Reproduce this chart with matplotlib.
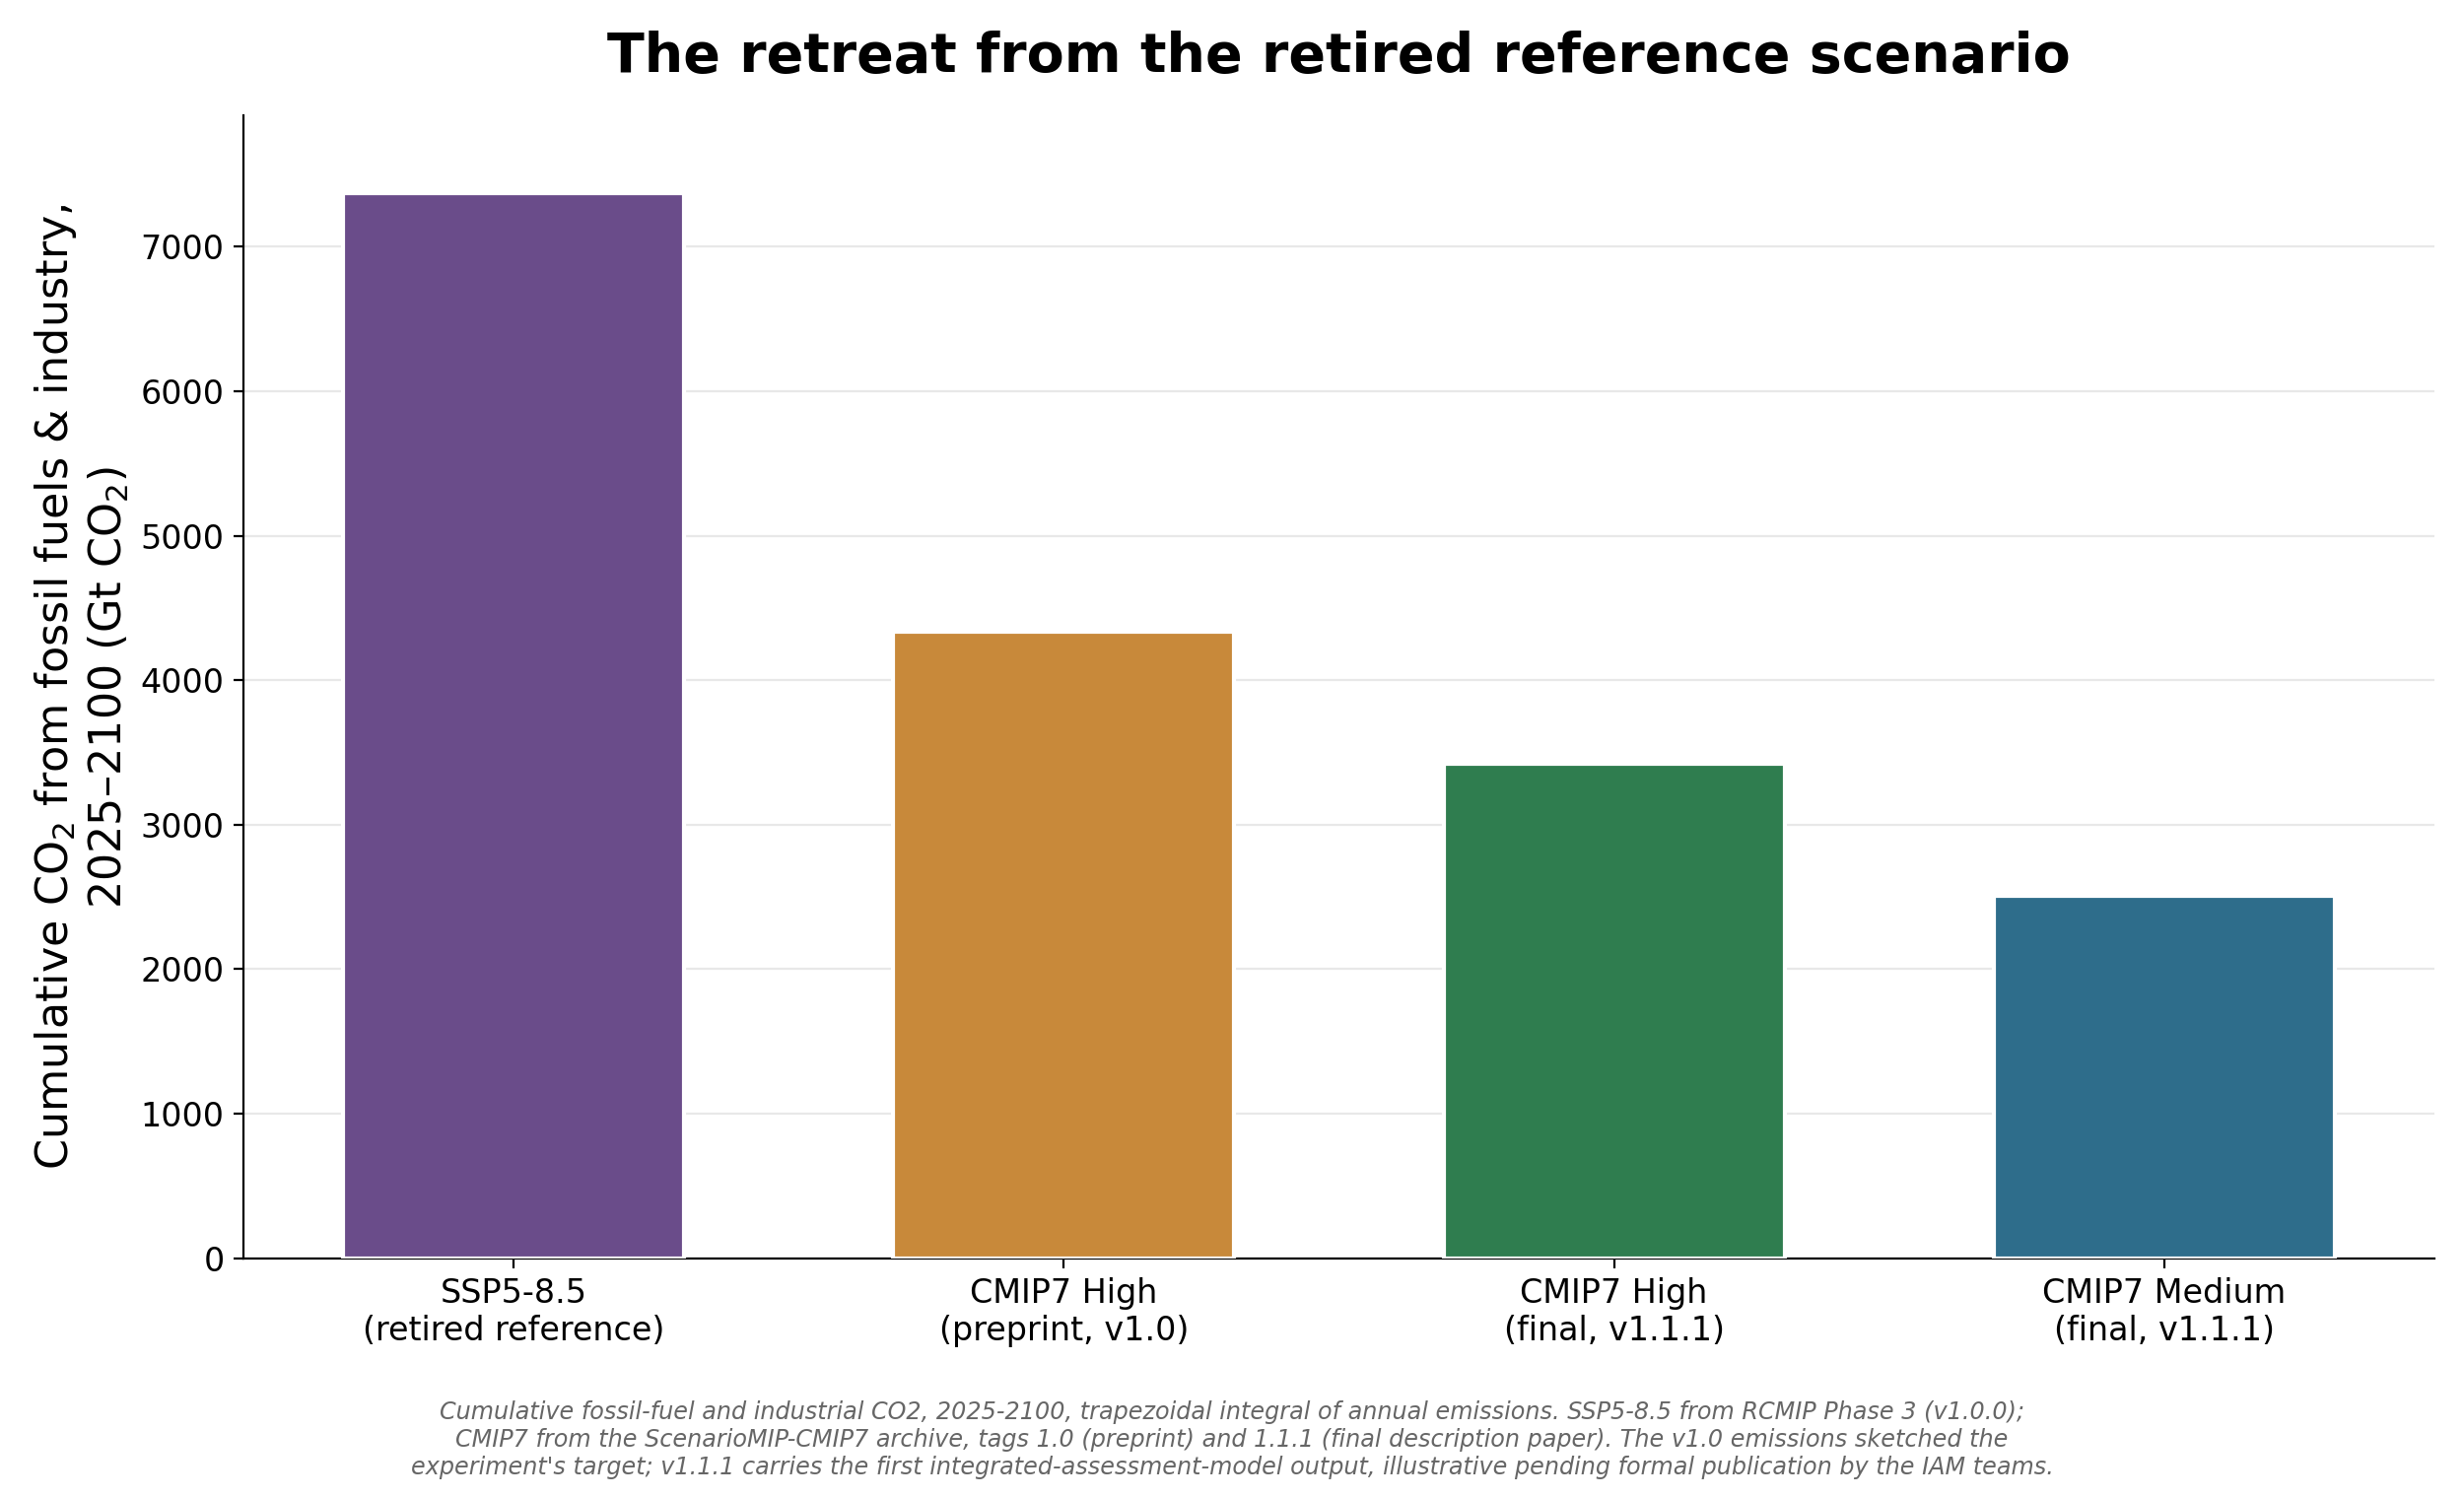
import matplotlib
matplotlib.use("Agg")
import matplotlib.pyplot as plt

categories = ["SSP5-8.5\n(retired reference)", "CMIP7 High\n(preprint, v1.0)",
              "CMIP7 High\n(final, v1.1.1)", "CMIP7 Medium\n(final, v1.1.1)"]
values = [7370, 4335, 3420, 2510]
colors = ["#6a4c8a", "#c8893a", "#2f7d4f", "#2e6d8b"]
yticks = [0, 1000, 2000, 3000, 4000, 5000, 6000, 7000]

title = "The retreat from the retired reference scenario"
ylabel = "Cumulative CO$_2$ from fossil fuels & industry,\n2025\u20132100 (Gt CO$_2$)"
footnote = ("Cumulative fossil-fuel and industrial CO2, 2025-2100, trapezoidal integral of annual emissions. "
            "SSP5-8.5 from RCMIP Phase 3 (v1.0.0);\n"
            "CMIP7 from the ScenarioMIP-CMIP7 archive, tags 1.0 (preprint) and 1.1.1 (final description paper). "
            "The v1.0 emissions sketched the\n"
            "experiment's target; v1.1.1 carries the first integrated-assessment-model output, "
            "illustrative pending formal publication by the IAM teams.")

fig = plt.figure(figsize=(12.5, 7.6), dpi=200)
ax = fig.add_axes([0.0988, 0.16, 0.8892, 0.763])

x = list(range(len(categories)))
ax.bar(x, values, width=0.62, color=colors, edgecolor="white", linewidth=1.5, zorder=3)
ax.set_xticks(x)
ax.set_xticklabels(categories, fontsize=12)
ax.set_yticks(yticks)
ax.tick_params(axis="y", labelsize=12)
ax.set_ylim(0, max(values) * 1.073)
ax.yaxis.grid(True, color="#e8e8e8", linewidth=0.8, zorder=0)
ax.set_axisbelow(True)
for s in ["top", "right"]:
    ax.spines[s].set_visible(False)
ax.set_ylabel(ylabel, fontsize=16, labelpad=3.5)
ax.set_title(title, fontsize=20, fontweight="bold", pad=16)

fig.text(0.5, 0.039, footnote, ha="center", va="center", fontsize=8.6,
         style="italic", color="#666666", linespacing=1.2)

fig.savefig("out.png", dpi=200)
